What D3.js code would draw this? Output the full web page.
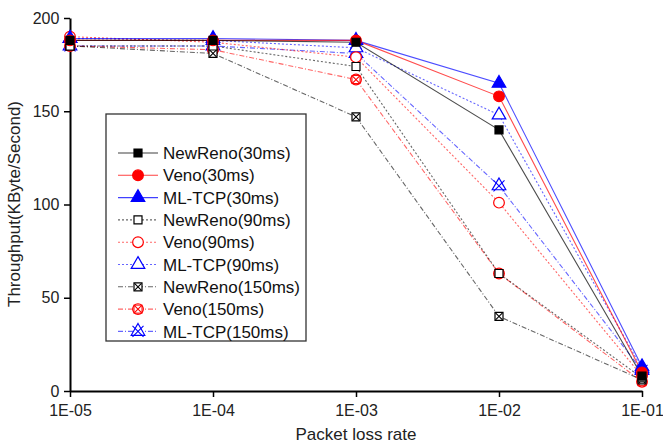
<!DOCTYPE html>
<html>
<head>
<meta charset="utf-8">
<script src="https://cdn.jsdelivr.net/npm/d3@7/dist/d3.min.js"></script>
<style>
  body { margin: 0; background: #fff; }
  svg { font-family: 'Liberation Sans', Arial, sans-serif; }
</style>
</head>
<body>
<svg id="chart" width="663" height="448"></svg>
<script>
// packet loss rates (x) and tick labels
const lossRates = [1e-5, 1e-4, 1e-3, 1e-2, 1e-1]
const xTickLabels = ['1E-05', '1E-04', '1E-03', '1E-02', '1E-01']
const yTicks = [0, 50, 100, 150, 200]

// throughput in KByte/s, one array per series
const newReno30 = [188, 188, 187, 140, 8]
const veno30 = [188, 188, 188, 158, 10]
const mlTcp30 = [189, 189, 188, 165, 13]
const newReno90 = [185, 185, 174, 63, 7]
const veno90 = [190, 187, 179, 101, 8]
const mlTcp90 = [189, 188, 184, 148, 12]
const newReno150 = [185, 181, 147, 40, 6]
const veno150 = [185, 183, 167, 63, 5]
const mlTcp150 = [185, 185, 181, 110, 11]

const seriesNames = ['NewReno(30ms)', 'Veno(30ms)', 'ML-TCP(30ms)',
  'NewReno(90ms)', 'Veno(90ms)', 'ML-TCP(90ms)',
  'NewReno(150ms)', 'Veno(150ms)', 'ML-TCP(150ms)']
const seriesValues = [newReno30, veno30, mlTcp30, newReno90, veno90, mlTcp90,
  newReno150, veno150, mlTcp150]

const colors = { NewReno: '#000000', Veno: '#ff0000', 'ML-TCP': '#0000ff' }
const dashes = { '30ms': null, '90ms': '2,2', '150ms': '5,2,1,2' }

const series = seriesNames.map((name, i) => {
  const proto = name.split('(')[0]
  const delay = name.split('(')[1].replace(')', '')
  return { name, proto, delay, values: seriesValues[i] }
})

const svg = d3.select('#chart')
const x = d3.scaleLog().domain([1e-5, 1e-1]).range([70, 642])
const y = d3.scaleLinear().domain([0, 200]).range([391, 18])

/*********** axes ***********/
const xAxis = svg.append('g')
  .attr('transform', 'translate(0,' + y(0) + ')')
  .call(d3.axisBottom(x).tickValues(lossRates)
    .tickFormat((d, i) => xTickLabels[i]).tickSize(6).tickSizeOuter(0))
const yAxis = svg.append('g')
  .attr('transform', 'translate(' + x(1e-5) + ',0)')
  .call(d3.axisLeft(y).tickValues(yTicks).tickSize(6).tickSizeOuter(0))

;[xAxis, yAxis].forEach(a => {
  a.select('.domain').attr('stroke', '#000').attr('stroke-width', 2)
  a.selectAll('.tick line').attr('stroke', '#000').attr('stroke-width', 1.5)
  a.selectAll('.tick text').attr('fill', '#222')
    .attr('font-family', 'Liberation Sans, Arial').attr('font-size', 16)
})
xAxis.selectAll('.tick text').attr('dy', '1.0em')
yAxis.selectAll('.tick text').attr('dx', '-0.1em')

svg.append('text')
  .text('Packet loss rate')
  .attr('x', x(1e-3)).attr('y', 440)
  .attr('text-anchor', 'middle')
  .attr('font-size', 17).attr('fill', '#222')

svg.append('text')
  .text('Throughput(KByte/Second)')
  .attr('transform', 'translate(20,' + 204 + ') rotate(-90)')
  .attr('text-anchor', 'middle')
  .attr('font-size', 17).attr('fill', '#222')

/*********** markers ***********/
function drawMarker (g, s, cx, cy) {
  const c = colors[s.proto]
  const filled = s.delay === '30ms'
  let type = d3.symbolSquare
  let size = 64
  if (s.proto === 'Veno') { type = d3.symbolCircle; size = 90 }
  if (s.proto === 'ML-TCP') { type = d3.symbolTriangle; size = 80 }
  g.append('path')
    .attr('d', d3.symbol().type(type).size(size)())
    .attr('transform', 'translate(' + cx + ',' + cy + ')')
    .attr('fill', filled ? c : '#fff')
    .attr('stroke', c)
    .attr('stroke-width', 1.2)
  if (s.delay === '150ms') {
    const r = s.proto === 'ML-TCP' ? 5.5 : 3.5
    g.append('path')
      .attr('d', 'M' + (cx - r) + ',' + (cy - r) + 'L' + (cx + r) + ',' + (cy + r) +
        'M' + (cx - r) + ',' + (cy + r) + 'L' + (cx + r) + ',' + (cy - r))
      .attr('stroke', c).attr('stroke-width', 1.1).attr('fill', 'none')
    if (s.proto === 'Veno') {
      g.append('rect')
        .attr('x', cx - 4).attr('y', cy - 4).attr('width', 8).attr('height', 8)
        .attr('fill', 'none').attr('stroke', c).attr('stroke-width', 1)
    }
  }
}

/*********** lines ***********/
const line = d3.line()
  .x((d, i) => x(lossRates[i]))
  .y(d => y(d))

const plot = svg.append('g')
series.slice().reverse().forEach(s => {
  plot.append('path')
    .datum(s.values)
    .attr('d', line)
    .attr('fill', 'none')
    .attr('stroke', colors[s.proto])
    .attr('stroke-opacity', s.delay === '30ms' ? 0.7 : 0.6)
    .attr('stroke-width', 1.1)
    .attr('stroke-dasharray', dashes[s.delay])
})
series.slice().reverse().forEach(s => {
  s.values.forEach((v, i) => drawMarker(plot, s, x(lossRates[i]), y(v)))
})

/*********** legend ***********/
const legend = svg.append('g')
legend.append('rect')
  .attr('x', 106).attr('y', 114).attr('width', 200).attr('height', 227)
  .attr('fill', '#fff').attr('stroke', '#333').attr('stroke-width', 1.3)

series.forEach((s, i) => {
  const cy = 153 + i * 22.3
  legend.append('line')
    .attr('x1', 118).attr('x2', 158).attr('y1', cy).attr('y2', cy)
    .attr('stroke', colors[s.proto])
    .attr('stroke-opacity', s.delay === '30ms' ? 0.75 : 0.6)
    .attr('stroke-width', 1.1)
    .attr('stroke-dasharray', dashes[s.delay])
  drawMarker(legend, s, 138, cy)
  legend.append('text')
    .text(s.name)
    .attr('x', 163).attr('y', cy).attr('dy', '0.36em')
    .attr('font-size', 17).attr('fill', '#111')
})
</script>
</body>
</html>
